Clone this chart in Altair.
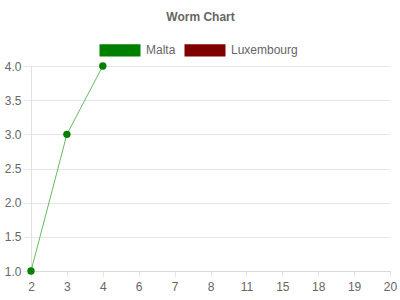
import altair as alt
import pandas as pd

rounds = ["2", "3", "4", "6", "7", "8", "11", "15", "18", "19", "20"]
malta_rounds = ["2", "3", "4"]
malta_values = [1.0, 3.0, 4.0]
series = ["Malta", "Luxembourg"]
colors = ["#008000", "#800000"]

df = pd.DataFrame({"round": malta_rounds, "value": malta_values, "team": ["Malta"] * len(malta_rounds)})

FONT = "Liberation Sans"
GREY = "#666666"

x = alt.X("round:N", sort=rounds,
          scale=alt.Scale(type="point", domain=rounds, padding=0),
          axis=alt.Axis(title=None, labelAngle=0, grid=False, domainColor="#d9d9d9",
                        tickColor="#e6e6e6", tickSize=6, labelPadding=4,
                        labelFont=FONT, labelFontSize=12, labelColor=GREY))
y = alt.Y("value:Q", scale=alt.Scale(domain=[1, 4], nice=False, zero=False),
          axis=alt.Axis(title=None, values=[1, 1.5, 2, 2.5, 3, 3.5, 4], format=".1f",
                        gridColor="#e6e6e6", domainColor="#e0e0e0", tickColor="#e6e6e6",
                        tickSize=8, labelPadding=2, labelFont=FONT, labelFontSize=12,
                        labelColor=GREY))

line = alt.Chart(df).mark_line(color="#66bb66", strokeWidth=1).encode(x=x, y=y)

points = alt.Chart(df).mark_point(filled=True, size=55, opacity=1).encode(
    x=x, y=y,
    color=alt.Color("team:N", scale=alt.Scale(domain=series, range=colors),
                    legend=alt.Legend(title=None, orient="none", direction="horizontal",
                                      legendX=68, legendY=-37,
                                      symbolType="M-1,-0.3L1,-0.3L1,0.3L-1,0.3Z",
                                      symbolSize=1681, symbolStrokeWidth=1,
                                      symbolOpacity=1, columnPadding=8,
                                      labelOffset=5, labelFont=FONT, labelFontSize=12,
                                      labelColor=GREY))
)

chart = alt.layer(line, points).properties(
    width=359, height=205,
    padding={"left": 31, "top": 66, "right": 10, "bottom": 29},
    autosize=alt.AutoSizeParams(type="none"),
    title=alt.TitleParams("Worm Chart", font=FONT, fontSize=12, fontWeight="bold",
                          color=GREY, anchor="middle", offset=5, dx=-10),
).configure_view(stroke=None)

chart.save("out.html", embed_options={"renderer": "svg", "actions": False})
